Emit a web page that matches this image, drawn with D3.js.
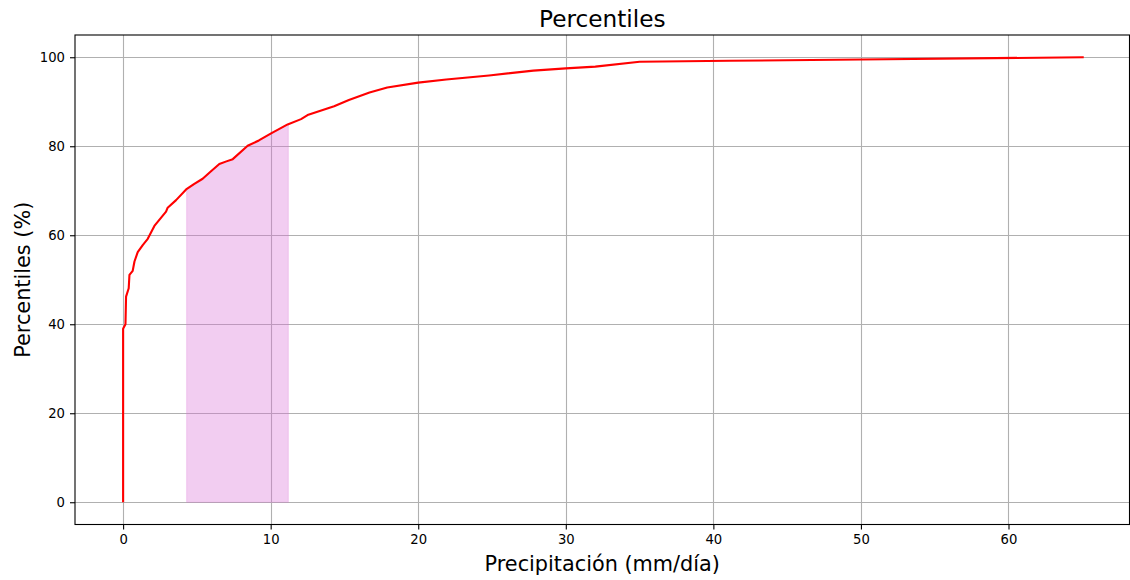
<!DOCTYPE html>
<html>
<head>
<meta charset="utf-8">
<script src="https://cdn.jsdelivr.net/npm/d3@7"></script>
<style>
  html, body { margin: 0; padding: 0; background: #fff; }
  svg { display: block; font-family: "DejaVu Sans", sans-serif; }
</style>
</head>
<body>
<svg id="chart" width="1130" height="580"></svg>
<script>
// ---- data ----
const precip = [0, 0, 0.16, 0.2, 0.38, 0.43, 0.65, 0.77, 0.99, 1.33, 1.67, 2.12, 2.91, 3.02, 3.59, 4.27, 4.8, 5.39, 5.9, 6.52, 7.0, 7.43, 8.44, 9.2, 10.03, 11.15, 12.06, 12.5, 14.3, 15.3, 16.7, 17.9, 20, 21.9, 24.8, 27.8, 30, 32.0, 35.0, 41.1, 50, 65.1];
const percentile = [0, 39, 40, 46.2, 48.1, 51.1, 52.0, 54.1, 56.2, 57.8, 59.2, 62.1, 65.3, 66.2, 67.9, 70.3, 71.5, 72.7, 74.2, 76.0, 76.6, 77.1, 80.1, 81.3, 82.9, 84.9, 86.1, 87.0, 89.0, 90.4, 92.1, 93.2, 94.3, 95.0, 95.9, 97.0, 97.5, 97.9, 99.0, 99.2, 99.5, 100];
const fillRange = [4.3, 11.2];
const xTicks = [0, 10, 20, 30, 40, 50, 60];
const yTicks = [0, 20, 40, 60, 80, 100];
const titleText = "Percentiles";
const xLabel = "Precipitación (mm/día)";
const yLabel = "Percentiles (%)";

// ---- layout ----
const L = 75, R = 1129.5, T = 35, B = 524.5;
const svg = d3.select("#chart");
const x = d3.scaleLinear().domain([-3.26, 68.2]).range([L, R]);
const y = d3.scaleLinear().domain([-5, 105]).range([B, T]);

const pts = precip.map((p, i) => [p, percentile[i]]);

// interpolation helper for fill edges
function interp(xv) {
  for (let i = 1; i < pts.length; i++) {
    if (pts[i][0] >= xv && pts[i-1][0] <= xv) {
      const [x0, y0] = pts[i-1], [x1, y1] = pts[i];
      if (x1 === x0) return y1;
      return y0 + (y1 - y0) * (xv - x0) / (x1 - x0);
    }
  }
  return pts[pts.length - 1][1];
}

// grid
const g = svg.append("g");
g.selectAll(".gx").data(xTicks).enter().append("line")
  .attr("x1", d => Math.round(x(d)) + 0.5).attr("x2", d => Math.round(x(d)) + 0.5)
  .attr("y1", T).attr("y2", B)
  .attr("stroke", "#b0b0b0").attr("stroke-width", 1.1);
g.selectAll(".gy").data(yTicks).enter().append("line")
  .attr("y1", d => Math.round(y(d)) + 0.5).attr("y2", d => Math.round(y(d)) + 0.5)
  .attr("x1", L).attr("x2", R)
  .attr("stroke", "#b0b0b0").attr("stroke-width", 1.1);

// fill area
const fillPts = [[fillRange[0], interp(fillRange[0])]]
  .concat(pts.filter(p => p[0] > fillRange[0] && p[0] < fillRange[1]))
  .concat([[fillRange[1], interp(fillRange[1])]]);
const area = d3.area().x(d => x(d[0])).y0(y(0)).y1(d => y(d[1]));
svg.append("path").datum(fillPts)
  .attr("d", area)
  .attr("fill", "#da70d6").attr("fill-opacity", 0.35)
  .attr("stroke", "#da70d6").attr("stroke-opacity", 0.2).attr("stroke-width", 1.2);

// line
const line = d3.line().x(d => x(d[0])).y(d => y(d[1]));
svg.append("path").datum(pts)
  .attr("d", line)
  .attr("fill", "none").attr("stroke", "red").attr("stroke-width", 2.1)
  .attr("stroke-linejoin", "round");

// axes
const xAxis = d3.axisBottom(x).tickValues(xTicks).tickSize(5).tickPadding(5).tickFormat(d3.format("d"));
const yAxis = d3.axisLeft(y).tickValues(yTicks).tickSize(5).tickPadding(5).tickFormat(d3.format("d"));
const gx = svg.append("g").attr("transform", `translate(0,${B})`).call(xAxis);
const gy = svg.append("g").attr("transform", `translate(${L},0)`).call(yAxis);
[gx, gy].forEach(a => {
  a.select(".domain").remove();
  a.selectAll("text").attr("font-family", "DejaVu Sans").attr("font-size", 13.2).attr("fill", "#000");
  a.selectAll("line").attr("stroke", "#000").attr("stroke-width", 1.1);
});

// frame
svg.append("rect").attr("x", L).attr("y", T).attr("width", R - L).attr("height", B - T)
  .attr("fill", "none").attr("stroke", "#000").attr("stroke-width", 1.1);

// labels
svg.append("text").attr("x", (L + R) / 2).attr("y", 27)
  .attr("text-anchor", "middle").attr("font-size", 23.2).text(titleText);
svg.append("text").attr("x", (L + R) / 2).attr("y", 571)
  .attr("text-anchor", "middle").attr("font-size", 20.8).text(xLabel);
svg.append("text").attr("transform", `translate(29.5,${(T + B) / 2}) rotate(-90)`)
  .attr("text-anchor", "middle").attr("font-size", 20.8).text(yLabel);
</script>
</body>
</html>
